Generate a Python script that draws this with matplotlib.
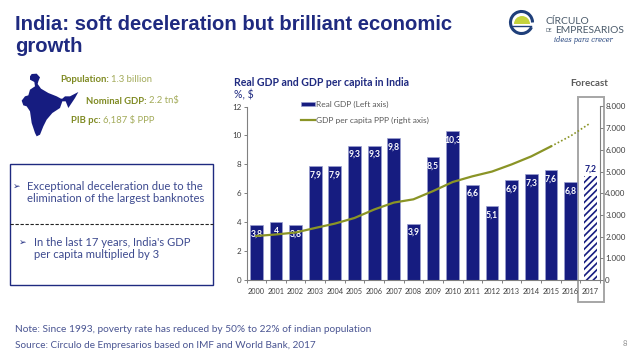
import matplotlib
matplotlib.use("Agg")
import matplotlib.pyplot as plt
from matplotlib.patches import Polygon, Rectangle, Wedge, Arc
from matplotlib.lines import Line2D
from matplotlib.ticker import FuncFormatter

years = [str(y) for y in range(2000, 2018)]
gdp_growth = [3.8, 4, 3.8, 7.9, 7.9, 9.3, 9.3, 9.8, 3.9, 8.5, 10.3, 6.6, 5.1, 6.9, 7.3, 7.6, 6.8, 7.2]
gdp_labels = ["3,8", "4", "3,8", "7,9", "7,9", "9,3", "9,3", "9,8", "3,9", "8,5", "10,3", "6,6", "5,1", "6,9", "7,3", "7,6", "6,8", "7,2"]
gdp_pc = [2030, 2100, 2190, 2400, 2600, 2860, 3250, 3570, 3720, 4100, 4520, 4780, 5000, 5330, 5700, 6160, 6640, 7230]

NAVY = "#161c80"
TITLE = "#1f2a80"
OLIVE = "#8a9426"
W, H = 638, 359
plt.rcParams["font.family"] = ["Lato", "DejaVu Sans"]
plt.rcParams["hatch.linewidth"] = 1.2

fig = plt.figure(figsize=(W / 100, H / 100), dpi=100, facecolor="white")

pg = fig.add_axes([0, 0, 1, 1], zorder=0)
pg.set_xlim(0, W); pg.set_ylim(H, 0); pg.axis("off")

L, R, T, B = 246.5, 600, 106.5, 280
ax = fig.add_axes([L / W, 1 - B / H, (R - L) / W, (B - T) / H], zorder=2)
ax.patch.set_alpha(0)
x = list(range(len(years)))
bars = ax.bar(x[:-1], gdp_growth[:-1], width=0.65, color=NAVY, edgecolor="#9a9fd0", linewidth=0.5)
ax.bar(x[-1], gdp_growth[-1], width=0.65, facecolor="white", edgecolor=NAVY, hatch="/////", linewidth=0)
ax.set_xlim(-0.5, 17.5)
ax.set_ylim(0, 12)
ax.set_yticks(range(0, 13, 2))
ax.set_xticks(x, years)
ax.set_xticks([i - 0.5 for i in range(19)], minor=True)
ax.tick_params(axis="x", which="major", length=0, labelsize=5.3, labelcolor="#404040", pad=5.5)
ax.tick_params(axis="x", which="minor", length=2.2, color="#808080", width=0.7)
ax.tick_params(axis="y", length=2.2, color="#808080", width=0.7, labelsize=5.8, labelcolor="#404040", pad=1.5)
for s in ("top", "right"):
    ax.spines[s].set_visible(False)
for s in ("left", "bottom"):
    ax.spines[s].set_color("#808080")
    ax.spines[s].set_linewidth(0.8)

for i, (v, t) in enumerate(zip(gdp_growth, gdp_labels)):
    if i == len(years) - 1:
        ax.annotate(t, (i, v), xytext=(0, 1.5), textcoords="offset points", ha="center", va="bottom",
                    color=NAVY, fontsize=6.2, fontweight="bold")
    else:
        ax.annotate(t, (i, v), xytext=(0, -9), textcoords="offset pixels",
                    ha="center", va="center", color="white", fontsize=6.2, fontweight="bold")

ax2 = ax.twinx()
ax2.patch.set_alpha(0)
ax2.set_ylim(0, 8000)
ax2.set_yticks(range(0, 8001, 1000))
ax2.yaxis.set_major_formatter(FuncFormatter(lambda v, _: "0" if v == 0 else f"{int(v):,}".replace(",", ".")))
ax2.tick_params(axis="y", length=2.2, color="#808080", width=0.7, labelsize=5.8, labelcolor="#404040", pad=1.5)
for s in ("top", "left", "bottom"):
    ax2.spines[s].set_visible(False)
ax2.spines["right"].set_color("#808080")
ax2.spines["right"].set_linewidth(0.8)
line, = ax2.plot(x[:16], gdp_pc[:16], color=OLIVE, lw=1.6)
ax2.plot(x[15:], gdp_pc[15:], color=OLIVE, lw=1.2, ls=(0, (1, 1.3)))

fig.legend([bars, line], ["Real GDP (Left axis)", "GDP per capita PPP (right axis)"],
           loc="upper left", bbox_to_anchor=(301 / W, 1 - 101 / H), frameon=False, fontsize=6,
           labelcolor="#595959", handlelength=1.7, handletextpad=0.15, labelspacing=1.0,
           borderpad=0, borderaxespad=0, handleheight=0.4)

pg.add_patch(Rectangle((578, 97), 26, 205, fill=False, ec="#a6a6a6", lw=1.4))
pg.text(589, 84, "Forecast", ha="center", va="center", fontsize=7, color="#595959", fontweight="bold")

pg.text(15, 24.5, "India: soft deceleration but brilliant economic", family="Liberation Sans",
        fontweight="bold", fontsize=14.6, color=TITLE, ha="left", va="center")
pg.text(15, 46.5, "growth", family="Liberation Sans", fontweight="bold", fontsize=14.6, color=TITLE, ha="left", va="center")
pg.text(234, 82.5, "Real GDP and GDP per capita in India", fontsize=7.6, fontweight="bold", color=TITLE, ha="left", va="center")
pg.text(234, 94.5, "%, $", fontsize=7.6, color=TITLE, ha="left", va="center")

india_crop = [(45, 25), (50, 18), (65, 17), (75, 28), (70, 40), (68, 48), (78, 62), (100, 75), (125, 85), (138, 92),
              (142, 92), (150, 85), (165, 85), (190, 72), (180, 90), (172, 102), (160, 120), (152, 100), (142, 100),
              (135, 120), (112, 135), (95, 155), (85, 175), (75, 200), (65, 205), (60, 195), (50, 165), (45, 130),
              (35, 115), (25, 112), (20, 98), (30, 85), (40, 82), (45, 65), (60, 55), (58, 42), (45, 35)]
pg.add_patch(Polygon([(a / 3 + 15, b / 3 + 68) for a, b in india_crop], closed=True, fc=NAVY, ec="none"))

def rich(xp, yp, a, b):
    t = pg.text(xp, yp, a, fontsize=6.8, fontweight="bold", color="#7f8a22", ha="left", va="center")
    fig.canvas.draw()
    bb = t.get_window_extent()
    pg.text(bb.x1 + 2, yp, b, fontsize=6.8, color="#a3ab5a", ha="left", va="center")
rich(60, 79, "Population:", "1.3 billion")
rich(86, 101, "Nominal GDP:", "2.2 tn$")
rich(71, 120.5, "PIB pc:", "6,187 $ PPP")

pg.add_patch(Rectangle((10, 164), 203, 121, fill=False, ec=TITLE, lw=1.0))
pg.add_line(Line2D([10, 213], [224, 224], color="#222222", lw=0.8, ls=(0, (3, 1.5))))
BODY = "#3d4a8f"
pg.text(12.5, 186, "➢", family=["DejaVu Sans"], fontsize=6.5, color=TITLE, va="center")
pg.text(27, 186.5, "Exceptional deceleration due to the", fontsize=8.1, color=BODY, va="center")
pg.text(27, 198.5, "elimination of the largest banknotes", fontsize=8.1, color=BODY, va="center")
pg.text(19.5, 242, "➢", family=["DejaVu Sans"], fontsize=6.5, color=TITLE, va="center")
pg.text(34, 242, "In the last 17 years, India's GDP", fontsize=8.1, color=BODY, va="center")
pg.text(34, 255, "per capita multiplied by 3", fontsize=8.1, color=BODY, va="center")

FOOT = "#4a5592"
pg.text(15, 330, "Note: Since 1993, poverty rate has reduced by 50% to 22% of indian population", fontsize=7.3, color=FOOT, va="center")
pg.text(15, 345, "Source: Círculo de Empresarios based on IMF and World Bank, 2017", fontsize=7.2, color=FOOT, va="center")
pg.text(627, 344, "8", fontsize=5.5, color="#8f8f8f", ha="right", va="center")

pg.add_patch(Wedge((522, 24), 8, 180, 360, fc="#c5d33c", ec="none"))
pg.add_patch(Arc((521.5, 22.5), 22, 22, theta1=25, theta2=360, color="#1f3f7a", lw=2.2))
pg.add_line(Line2D([511, 531], [26, 26], color="#1f3f7a", lw=1.0))
pg.text(545, 21.5, "CÍRCULO", fontsize=7.4, color="#4a5a6a", va="center")
pg.text(545, 30.5, "DE", fontsize=3.5, color="#4a5a6a", va="center")
pg.text(555, 30.5, "EMPRESARIOS", fontsize=7.4, color="#4a5a6a", va="center")
pg.text(554, 40.5, "ideas para crecer", family=["DejaVu Serif"], style="italic", fontsize=4.8, color="#1f3f7a", va="center")

fig.savefig("out.png", dpi=100)
